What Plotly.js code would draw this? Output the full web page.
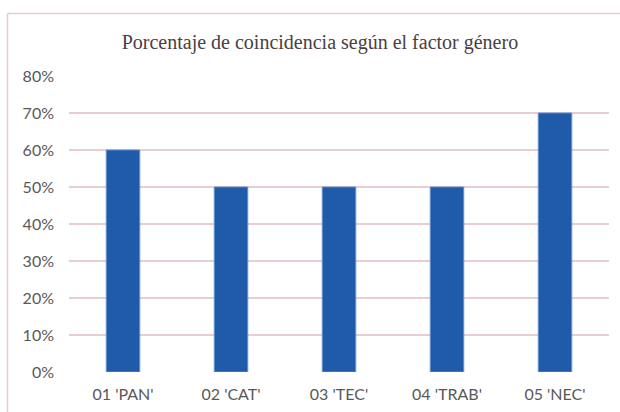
<!DOCTYPE html>
<html>
<head>
<meta charset="utf-8">
<script src="https://cdn.plot.ly/plotly-3.0.1.min.js"></script>
<style>html,body{margin:0;padding:0;background:#fff;}#chart{width:620px;height:412px;}</style>
</head>
<body>
<div id="chart"></div>
<script>
const categories = ["01 'PAN'", "02 'CAT'", "03 'TEC'", "04 'TRAB'", "05 'NEC'"];
const values = [0.60, 0.50, 0.50, 0.50, 0.70];
const tickVals = [0, 0.1, 0.2, 0.3, 0.4, 0.5, 0.6, 0.7, 0.8];
const tickText = ["0%", "10%", "20%", "30%", "40%", "50%", "60%", "70%", "80%"];
const chartTitle = "Porcentaje de coincidencia según el factor género";

const W = 620, H = 412, L = 69, R = 11, T = 76, B = 40;
const pw = W - L - R, ph = H - T - B;
const px = x => (x - L) / pw;
const py = y => 1 - (y - T) / ph;

const trace = {
  type: 'bar',
  x: categories,
  y: values,
  marker: {color: '#1F5BA8', line: {color: '#5F8ED0', width: 1}},
  hoverinfo: 'x+y'
};

const layout = {
  width: W, height: H,
  margin: {l: L, r: R, t: T, b: B, pad: 0},
  paper_bgcolor: '#ffffff',
  plot_bgcolor: '#ffffff',
  bargap: 0.69,
  showlegend: false,
  title: {
    text: chartTitle,
    font: {family: 'Liberation Serif, Times New Roman, serif', size: 20, color: '#4a4043'},
    x: 0.516, xref: 'container', xanchor: 'center',
    y: 1 - 42 / H, yref: 'container', yanchor: 'middle'
  },
  xaxis: {
    showgrid: false, zeroline: false, showline: false, ticks: '',
    tickfont: {family: 'Lato, Open Sans, sans-serif', size: 16, color: '#595959'},
    ticklabelstandoff: 11
  },
  yaxis: {
    range: [0, 0.8],
    tickvals: tickVals, ticktext: tickText,
    showgrid: true, gridcolor: '#E8CDD6', gridwidth: 1.5,
    zeroline: false, showline: false, ticks: '',
    tickfont: {family: 'Lato, Open Sans, sans-serif', size: 16, color: '#595959'},
    ticklabelstandoff: 14
  },
  shapes: [
    {type: 'line', xref: 'paper', yref: 'paper', x0: px(7.5), x1: px(7.5), y0: py(13.5), y1: py(420), line: {color: '#E3CBD3', width: 1.5}},
    {type: 'line', xref: 'paper', yref: 'paper', x0: px(7.5), x1: px(630), y0: py(13.5), y1: py(13.5), line: {color: '#E3CBD3', width: 1.5}}
  ]
};

Plotly.newPlot('chart', [trace], layout, {displayModeBar: false, staticPlot: true});
</script>
</body>
</html>
